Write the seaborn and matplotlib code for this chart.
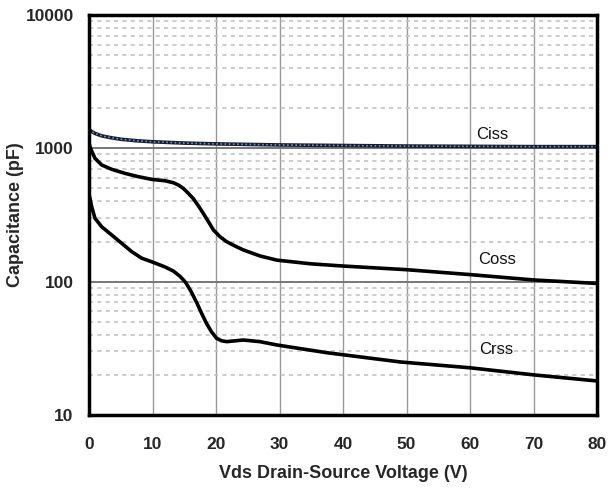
import matplotlib
matplotlib.use("Agg")
import matplotlib.pyplot as plt
import seaborn as sns
import pandas as pd
from matplotlib.ticker import FixedLocator, LogLocator, NullFormatter, FixedFormatter

# ---- data ----
ciss_v = [0, 0.5, 1, 2, 3.5, 5, 7.5, 10, 15, 20, 30, 40, 50, 60, 70, 80]
ciss_c = [1380, 1330, 1290, 1240, 1200, 1170, 1140, 1120, 1095, 1080, 1060, 1050, 1040, 1035, 1030, 1030]

coss_v = [0, 0.15, 0.4, 0.94, 2.0, 3.57, 5.67, 7.77, 9.87, 11.97, 13.3, 14.1, 14.85, 15.6, 16.4, 17.2,
          18, 18.8, 19.6, 20.6, 21.7, 23, 24.3, 26.9, 29.6, 35, 40, 50, 60, 70, 80]
coss_c = [1100, 1030, 960, 842, 750, 696, 649, 613, 585, 571, 552, 530, 501, 462, 421, 372,
          325, 282, 244, 218, 199, 185, 173, 156, 145, 136, 131, 123, 113, 103, 97]

crss_v = [0, 0.16, 0.42, 0.94, 2.0, 3.57, 5.15, 6.72, 8.3, 9.87, 11.97, 13.3, 14.3, 15.2, 16.1, 17,
          17.8, 18.5, 19.3, 20.1, 20.9, 21.7, 23, 24.3, 26.9, 29.6, 37.5, 49, 60, 70, 80]
crss_c = [450, 420, 365, 299, 258, 224, 194, 168, 150, 141, 129, 120, 110, 99, 84, 69,
          57, 48.7, 42, 37.6, 36, 35.5, 36, 36.5, 35.5, 33.5, 29.3, 25, 22.6, 20, 18]

x_ticks = [0, 10, 20, 30, 40, 50, 60, 70, 80]
y_ticks = [10, 100, 1000, 10000]
curve_labels = ["Ciss", "Coss", "Crss"]
label_pos_v = [63.5, 64.2, 64.2]
label_pos_c = [1270, 146, 30.8]

df_ciss = pd.DataFrame({"V": ciss_v, "C": ciss_c})
df_coss = pd.DataFrame({"V": coss_v, "C": coss_c})
df_crss = pd.DataFrame({"V": crss_v, "C": crss_c})

sns.set_style("white")
plt.rcParams["font.family"] = ["Liberation Sans", "DejaVu Sans"]
plt.rcParams["lines.solid_joinstyle"] = "round"
plt.rcParams["lines.solid_capstyle"] = "round"

fig = plt.figure(figsize=(6.1, 4.91), dpi=100)
ax = fig.add_axes([89 / 610, 1 - 415 / 491, (597 - 89) / 610, (415 - 15) / 491])
ax.set_yscale("log")
ax.set_xlim(0, 80)
ax.set_ylim(10, 10000)

# grid
ax.xaxis.set_major_locator(FixedLocator(x_ticks))
ax.yaxis.set_major_locator(FixedLocator(y_ticks))
ax.yaxis.set_minor_locator(LogLocator(base=10, subs=range(2, 10)))
ax.yaxis.set_minor_formatter(NullFormatter())
ax.grid(True, axis="x", which="major", color="#999999", lw=1.0, zorder=0)
ax.grid(True, axis="y", which="major", color="#777777", lw=1.4, zorder=0)
ax.grid(True, axis="y", which="minor", color="#c4c4c4", lw=1.2, ls=(0, (2.5, 2.5)), zorder=0)

sns.lineplot(data=df_coss, x="V", y="C", ax=ax, color="black", lw=2.6, zorder=3)
sns.lineplot(data=df_crss, x="V", y="C", ax=ax, color="black", lw=2.6, zorder=3)
sns.lineplot(data=df_ciss, x="V", y="C", ax=ax, color="#1a1a2a", lw=2.6, zorder=3)
sns.lineplot(data=df_ciss, x="V", y="C", ax=ax, color="#5a9ad0", lw=1.2, ls=(0, (1, 1.5)), zorder=4)

for t, xv, yv in zip(curve_labels, label_pos_v, label_pos_c):
    ax.text(xv, yv, t, ha="center", va="center", fontsize=12, color="#111111", zorder=5)

ax.set_xticklabels([str(v) for v in x_ticks])
ax.yaxis.set_major_formatter(FixedFormatter([str(v) for v in y_ticks]))
ax.tick_params(axis="x", which="both", length=0, pad=16, labelsize=12.5)
ax.tick_params(axis="y", which="both", length=0, pad=11, labelsize=12.5)
for lab in ax.get_xticklabels() + ax.get_yticklabels():
    lab.set_fontweight("bold")

ax.set_xlabel("Vds Drain-Source Voltage (V)", fontsize=13, fontweight="bold", labelpad=9)
ax.set_ylabel("Capacitance (pF)", fontsize=13, fontweight="bold", labelpad=1)

for s in ax.spines.values():
    s.set_visible(True)
    s.set_color("black")
    s.set_linewidth(2.5)
    s.set_zorder(6)

fig.savefig("out.png", dpi=100)
